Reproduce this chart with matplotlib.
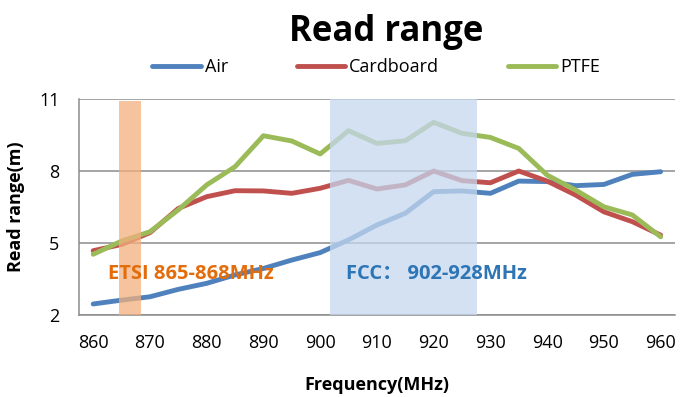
import matplotlib.pyplot as plt

freq = [860, 865, 870, 875, 880, 885, 890, 895, 900, 905, 910,
        915, 920, 925, 930, 935, 940, 945, 950, 955, 960]
air = [2.46, 2.62, 2.76, 3.07, 3.32, 3.67, 3.94, 4.29, 4.60, 5.13, 5.75,
       6.24, 7.14, 7.17, 7.07, 7.58, 7.56, 7.39, 7.44, 7.86, 7.97]
cardboard = [4.68, 4.94, 5.43, 6.44, 6.93, 7.18, 7.17, 7.07, 7.28, 7.61, 7.25,
             7.42, 8.00, 7.60, 7.51, 8.00, 7.58, 7.00, 6.30, 5.89, 5.33]
ptfe = [4.53, 5.08, 5.47, 6.38, 7.42, 8.18, 9.47, 9.25, 8.71, 9.68, 9.15,
        9.26, 10.03, 9.57, 9.40, 8.94, 7.83, 7.21, 6.51, 6.17, 5.26]
yticks = [2, 5, 8, 11]
xticks = list(range(860, 961, 10))
etsi_band = (864.6, 868.4)
fcc_band = (901.8, 927.6)

plt.rcParams["font.family"] = ["Open Sans", "Noto Sans CJK SC", "DejaVu Sans"]

fig = plt.figure(figsize=(6.9, 3.97), dpi=100)
ax = fig.add_axes([0.1145, 0.2065, 0.8635, 0.5441])

ax.plot(freq, air, color="#4F81BD", lw=3.5, label="Air", solid_capstyle="round", zorder=3)
ax.plot(freq, cardboard, color="#C0504D", lw=3.5, label="Cardboard", solid_capstyle="round", zorder=3)
ax.plot(freq, ptfe, color="#9BBB59", lw=3.5, label="PTFE", solid_capstyle="round", zorder=3)

# bands sit on top of the lines, semi transparent
ax.axvspan(*etsi_band, ymin=0, ymax=0.99, color="#F2B07E", alpha=0.75, lw=0, zorder=4)
ax.axvspan(*fcc_band, color="#C5D7EE", alpha=0.75, lw=0, zorder=4)

ax.text(862.6, 3.72, "ETSI 865-868MHz", color="#E46C0A", fontsize=14.5,
        fontweight="bold", va="center", ha="left", zorder=5)
ax.text(904.6, 3.72, "FCC： 902-928MHz", color="#2E75B6", fontsize=14.5,
        fontweight="bold", va="center", ha="left", zorder=5)

ax.set_xlim(857.5, 962.5)
ax.set_ylim(2, 11)
ax.set_xticks(xticks)
ax.set_yticks(yticks)
ax.tick_params(length=0, labelsize=13, pad=14)
ax.grid(axis="y", color="#8C8C8C", lw=1.1, zorder=1)
ax.set_axisbelow(True)
for side in ["top", "right"]:
    ax.spines[side].set_visible(False)
for side in ["left", "bottom"]:
    ax.spines[side].set_color("#8C8C8C")
    ax.spines[side].set_linewidth(1.1)

ax.set_xlabel("Frequency(MHz)", fontsize=13, fontweight="bold", labelpad=17)
ax.set_ylabel("Read range(m)", fontsize=13, fontweight="bold", labelpad=10)

fig.text(0.56, 0.92, "Read range", ha="center", va="center", fontsize=25, fontweight="bold")
fig.legend(loc="center", bbox_to_anchor=(0.545, 0.83), ncol=3, frameon=False,
           fontsize=13, handlelength=2.7, handletextpad=0.2, columnspacing=3.8)

fig.savefig("out.png", dpi=100)
